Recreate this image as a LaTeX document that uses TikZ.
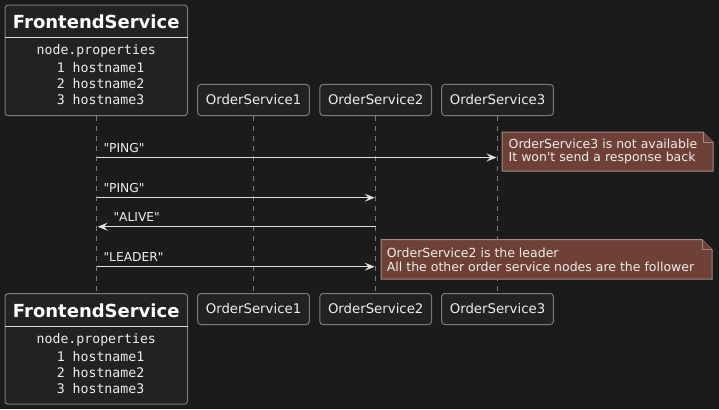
\documentclass[tikz,border=0pt]{standalone}
\usepackage{fontspec}
\setmainfont{DejaVu Sans}
\setmonofont{DejaVu Sans Mono}
\usetikzlibrary{arrows.meta}
\definecolor{bgc}{HTML}{1B1B1B}
\definecolor{boxfill}{HTML}{222222}
\definecolor{boxline}{HTML}{7A7A7A}
\definecolor{txt}{HTML}{EEEEEE}
\definecolor{msgline}{HTML}{E0E0E0}
\definecolor{notefill}{HTML}{6E4036}
\definecolor{noteline}{HTML}{9E8A86}
\tikzset{
  pbox/.style={draw=boxline, fill=boxfill, rounded corners=3pt, line width=1pt,
    minimum width=111.6pt, minimum height=31pt, inner sep=0pt,
    text=txt, font=\fontsize{13.3}{16}\selectfont},
  febox/.style={draw=boxline, fill=boxfill, rounded corners=3pt, line width=1pt,
    minimum width=182.5pt, minimum height=110.5pt, inner sep=0pt},
  fetitle/.style={text=white, font=\fontsize{18}{20}\bfseries\selectfont, inner sep=0pt},
  monotxt/.style={text=txt, font=\fontsize{13.2}{16}\ttfamily\selectfont, inner sep=0pt, anchor=west},
  sepline/.style={draw=white!85!black, line width=1pt},
  lifeline/.style={draw=boxline, line width=1pt, dash pattern=on 5pt off 5pt},
  msg/.style={draw=msgline, line width=1pt, -{Stealth[length=10pt,width=8pt,inset=4pt]}},
  msglabel/.style={text=txt, font=\fontsize{12.3}{15}\selectfont, inner sep=0pt, anchor=west},
  notebody/.style={draw=noteline, fill=notefill, line width=1pt},
  notetxt/.style={text=txt, font=\fontsize{12.5}{15}\selectfont, inner sep=0pt, anchor=west},
}
\begin{document}
\begin{tikzpicture}[x=1pt,y=-1pt]
\fill[bgc] (0,0) rectangle (719,409);
\useasboundingbox (0,0) rectangle (719,409);

% ---------- top participants ----------
\node[febox] (fetop) at (96.25,60.4) {};
\draw[sepline] (5,37.3) -- (187.5,37.3);
\node[fetitle] (fetoptitle) at (96.25,21.5) {FrontendService};
\node[monotxt] (fetopm0) at (36.5,51.3) {node.properties};
\node[monotxt] (fetopm1) at (56.6,67.6) {1 hostname1};
\node[monotxt] (fetopm2) at (56.6,83.8) {2 hostname2};
\node[monotxt] (fetopm3) at (56.6,100.0) {3 hostname3};

\node[pbox] (os1top) at (253.5,100) {OrderService1};
\node[pbox] (os2top) at (375.7,100) {OrderService2};
\node[pbox] (os3top) at (497.5,100) {OrderService3};

% ---------- bottom participants ----------
\node[febox] (febot) at (96.25,348.9) {};
\draw[sepline] (5,326) -- (187.5,326);
\node[fetitle] (febottitle) at (96.25,311) {FrontendService};
\node[monotxt] (febotm0) at (36.5,340) {node.properties};
\node[monotxt] (febotm1) at (56.6,356.3) {1 hostname1};
\node[monotxt] (febotm2) at (56.6,372.6) {2 hostname2};
\node[monotxt] (febotm3) at (56.6,389) {3 hostname3};

\node[pbox] (os1bot) at (253.5,309) {OrderService1};
\node[pbox] (os2bot) at (375.7,309) {OrderService2};
\node[pbox] (os3bot) at (497.5,309) {OrderService3};

% ---------- lifelines ----------
\draw[lifeline] (96.7,116) -- (96.7,293);
\draw[lifeline] (os1top.south) -- (os1bot.north);
\draw[lifeline] (os2top.south) -- (os2bot.north);
\draw[lifeline] (os3top.south) -- (os3bot.north);

% ---------- message anchor points ----------
\coordinate (fe1) at (96.7,157.5);
\coordinate (os3m1) at (496.5,157.5);
\coordinate (fe2) at (96.7,197.7);
\coordinate (os2m2) at (374.7,197.7);
\coordinate (os2m3) at (375.7,226.7);
\coordinate (fe3) at (97.7,226.7);
\coordinate (fe4) at (96.7,266.7);
\coordinate (os2m4) at (374.7,266.7);

\draw[msg] (fe1) -- (os3m1);
\node[msglabel] (l1) at (103.3,148) {\textquotedbl PING\textquotedbl};
\draw[msg] (fe2) -- (os2m2);
\node[msglabel] (l2) at (103.3,188) {\textquotedbl PING\textquotedbl};
\draw[msg] (os2m3) -- (fe3);
\node[msglabel] (l3) at (113.3,217.5) {\textquotedbl ALIVE\textquotedbl};
\draw[msg] (fe4) -- (os2m4);
\node[msglabel] (l4) at (103.3,257) {\textquotedbl LEADER\textquotedbl};

% ---------- notes ----------
\draw[notebody] (502,132) -- (703,132) -- (713,142) -- (713,171) -- (502,171) -- cycle;
\draw[notebody] (703,132) -- (703,142) -- (713,142);
\node[notetxt] (n1a) at (508.5,143.5) {OrderService3 is not available};
\node[notetxt] (n1b) at (508.5,158.5) {It won\textquotesingle t send a response back};

\draw[notebody] (381,239.5) -- (702,239.5) -- (712,249.5) -- (712,279) -- (381,279) -- cycle;
\draw[notebody] (702,239.5) -- (702,249.5) -- (712,249.5);
\node[notetxt] (n2a) at (386.7,252.7) {OrderService2 is the leader};
\node[notetxt] (n2b) at (386.7,267.3) {All the other order service nodes are the follower};
\end{tikzpicture}
\end{document}
